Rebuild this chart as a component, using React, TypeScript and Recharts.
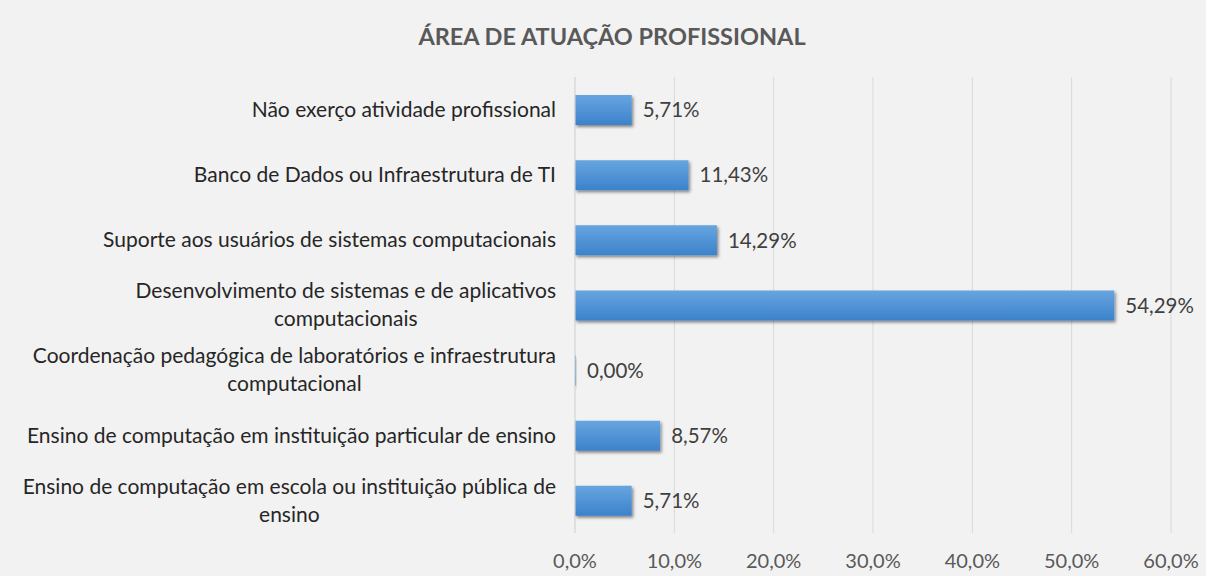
import React from 'react';
import { BarChart, Bar, XAxis, YAxis, CartesianGrid, LabelList } from 'recharts';

const categories = [
  'Não exerço atividade profissional',
  'Banco de Dados ou Infraestrutura de TI',
  'Suporte aos usuários de sistemas computacionais',
  'Desenvolvimento de sistemas e de aplicativos\ncomputacionais',
  'Coordenação pedagógica de laboratórios e infraestrutura\ncomputacional',
  'Ensino de computação em instituição particular de ensino',
  'Ensino de computação em escola ou instituição pública de\nensino',
];
const values = [5.71, 11.43, 14.29, 54.29, 0, 8.57, 5.71];
const xTicks = [0, 10, 20, 30, 40, 50, 60];
const title = 'ÁREA DE ATUAÇÃO PROFISSIONAL';

const data = categories.map((c, i) => ({ name: c, value: values[i] }));

const FONT = 'Lato, "Open Sans", sans-serif';
const LABEL_SIZE = 21;

let ctx: CanvasRenderingContext2D | null = null;
const measure = (s: string, size: number) => {
  if (!ctx) ctx = document.createElement('canvas').getContext('2d');
  if (!ctx) return s.length * size * 0.5;
  ctx.font = `${size}px ${FONT}`;
  return ctx.measureText(s).width;
};

const YTick = (props: any) => {
  const { x, y, payload } = props;
  const lines = String(payload.value).split('\n');
  const lh = 28;
  const y0 = y - ((lines.length - 1) * lh) / 2;
  const w1 = measure(lines[0], LABEL_SIZE);
  return (
    <g>
      {lines.map((l, i) => (
        <text
          key={i}
          x={i === 0 ? x : x - w1 / 2}
          y={y0 + i * lh}
          dy="0.35em"
          textAnchor={i === 0 ? 'end' : 'middle'}
          fill="#262626"
          fontSize={LABEL_SIZE}
          fontFamily={FONT}
        >
          {l}
        </text>
      ))}
    </g>
  );
};

const fmtTick = (v: number) => `${v.toFixed(1).replace('.', ',')}%`;
const fmtLabel = (v: any) => `${Number(v).toFixed(2).replace('.', ',')}%`;

export default function App() {
  return (
    <div style={{ position: 'absolute', left: 0, top: 0, width: 1206, height: 576, background: '#f2f2f2', fontFamily: FONT }}>
      <svg width={1206} height={70} style={{ position: 'absolute', left: 0, top: 0 }}>
        <text x={612} y={45} textAnchor="middle" fontSize={23.5} fontWeight={700} fill="#595959" fontFamily={FONT}>
          {title}
        </text>
      </svg>
      <BarChart
        width={1206}
        height={576}
        data={data}
        layout="vertical"
        margin={{ top: 77, right: 35, bottom: 13, left: 0 }}
        barSize={30}
      >
        <defs>
          <linearGradient id="barGrad" x1="0" y1="0" x2="0" y2="1">
            <stop offset="0%" stopColor="#67a5e0" />
            <stop offset="100%" stopColor="#3c82cb" />
          </linearGradient>
          <filter id="barShadow" x="-10%" y="-20%" width="130%" height="160%">
            <feDropShadow dx="1.5" dy="2" stdDeviation="1.5" floodColor="#000" floodOpacity="0.45" />
          </filter>
        </defs>
        <CartesianGrid horizontal={false} stroke="#d9d9d9" />
        <XAxis
          type="number"
          domain={[0, 60]}
          ticks={xTicks}
          tickFormatter={fmtTick}
          axisLine={false}
          tickLine={false}
          tickSize={0}
          tickMargin={21}
          height={30}
          tick={{ fill: '#595959', fontSize: 20, fontFamily: FONT }}
        />
        <YAxis
          type="category"
          dataKey="name"
          width={575}
          axisLine={{ stroke: '#d9d9d9' }}
          tickLine={false}
          tickSize={0}
          tickMargin={19}
          tick={<YTick />}
          interval={0}
        />
        <Bar dataKey="value" fill="url(#barGrad)" filter="url(#barShadow)" minPointSize={1} isAnimationActive={false}>
          <LabelList dataKey="value" position="right" offset={11} formatter={fmtLabel} fill="#404040" fontSize={20.5} fontFamily={FONT} />
        </Bar>
      </BarChart>
    </div>
  );
}
